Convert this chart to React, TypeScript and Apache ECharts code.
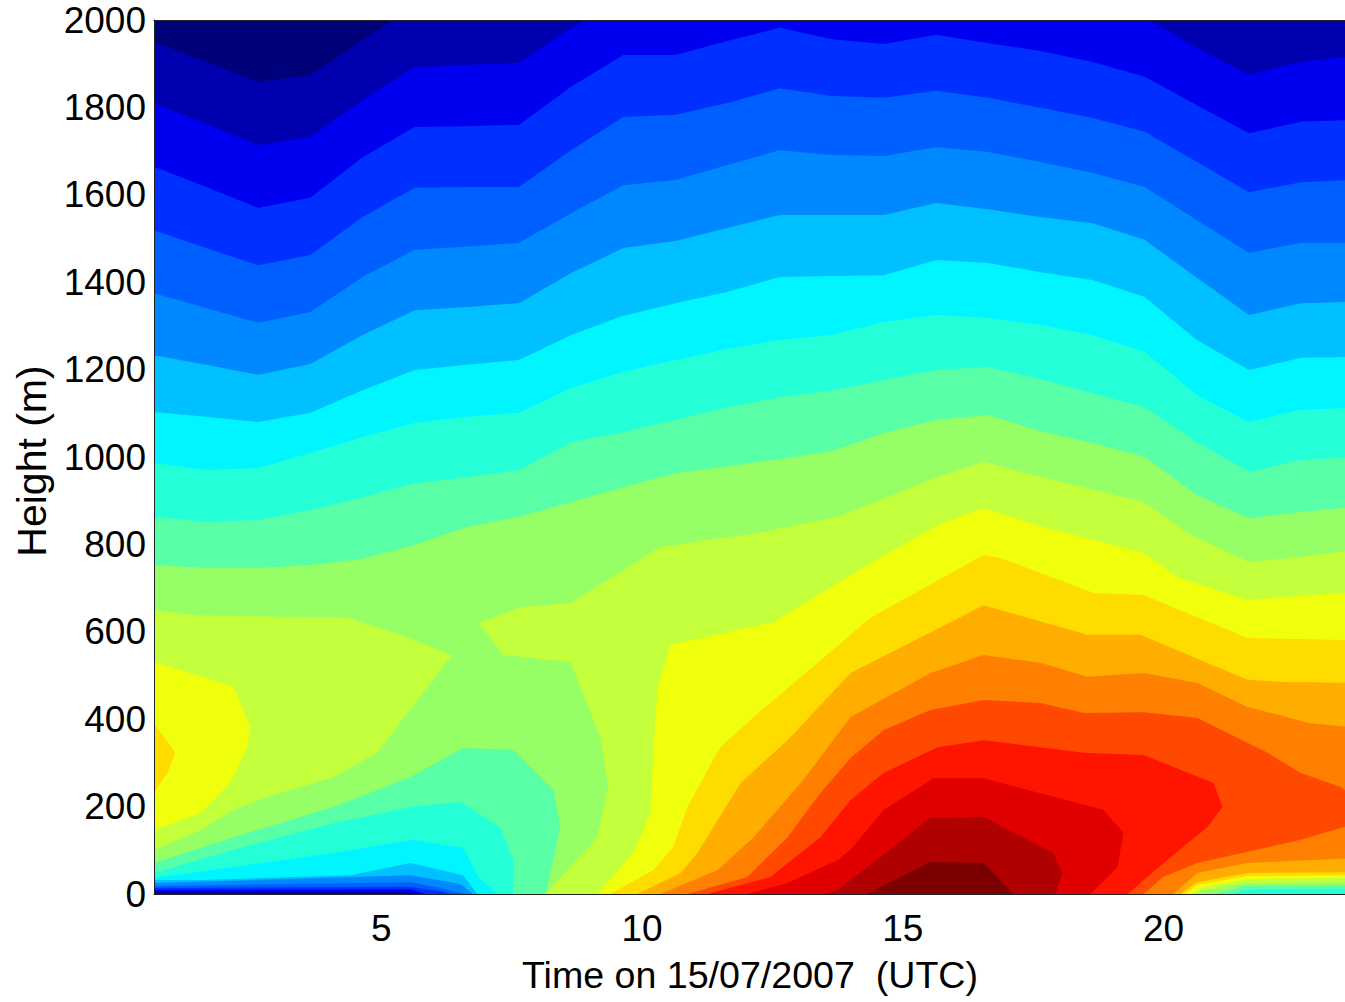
import React, { useEffect, useRef } from "react";
import * as echarts from "echarts";

// Hourly soundings (UTC hours) at which the upper contour lines were read.
const hours = [0.64, 1.64, 2.64, 3.64, 4.64, 5.64, 6.64, 7.64, 8.64, 9.64, 10.64, 11.64, 12.64, 13.64, 14.64, 15.64, 16.64, 17.64, 18.64, 19.64, 20.64, 21.64, 22.64, 23.64];

// Height (m) of each contour line at those hours, top of the chart downwards.
const lineA = [1950, 1904, 1858, 1874, 1954, 2034, 2100, 2100, 2100, 2100, 2100, 2100, 2100, 2100, 2100, 2100, 2100, 2100, 2100, 2100, 2100, 2100, 2100, 2100];
const lineB = [1810, 1762, 1714, 1732, 1817, 1892, 1897, 1902, 1982, 2050, 2060, 2070, 2080, 2070, 2070, 2080, 2070, 2060, 2046, 2005, 1936, 1874, 1904, 1918];
const lineC = [1664, 1618, 1570, 1593, 1686, 1755, 1757, 1760, 1847, 1920, 1920, 1952, 1982, 1956, 1945, 1966, 1947, 1929, 1904, 1870, 1805, 1741, 1767, 1771];
const lineD = [1519, 1478, 1439, 1462, 1549, 1616, 1618, 1618, 1702, 1778, 1783, 1810, 1844, 1826, 1822, 1838, 1822, 1799, 1776, 1744, 1675, 1606, 1629, 1634];
const lineE = [1375, 1341, 1307, 1332, 1412, 1474, 1481, 1490, 1558, 1622, 1634, 1668, 1702, 1691, 1689, 1709, 1698, 1675, 1650, 1618, 1542, 1467, 1490, 1490];
const lineF = [1233, 1211, 1188, 1213, 1279, 1336, 1343, 1352, 1421, 1478, 1494, 1524, 1554, 1554, 1554, 1581, 1567, 1549, 1535, 1497, 1410, 1325, 1352, 1355];
const lineG = [1103, 1092, 1080, 1101, 1153, 1199, 1211, 1222, 1279, 1323, 1352, 1378, 1412, 1414, 1416, 1451, 1444, 1423, 1405, 1366, 1268, 1199, 1227, 1229];
const lineH = [986, 970, 975, 1009, 1046, 1078, 1092, 1101, 1158, 1195, 1222, 1247, 1268, 1279, 1309, 1325, 1318, 1302, 1279, 1240, 1142, 1080, 1108, 1112];
const lineI = [863, 851, 856, 879, 908, 940, 954, 970, 1034, 1057, 1085, 1114, 1137, 1153, 1176, 1199, 1206, 1178, 1146, 1114, 1034, 966, 993, 1000];
const lineJ = [753, 746, 746, 753, 767, 799, 840, 863, 897, 931, 963, 979, 995, 1014, 1055, 1085, 1096, 1059, 1032, 1000, 913, 860, 874, 886];

type Pt = [number, number];

// Closed contour shapes as [hour, height in m].
const lobeWest: Pt[] = [[0.64, 650], [1.47, 638], [3.45, 634], [4.35, 632], [5.37, 593], [6.36, 547], [5.69, 444], [4.92, 323], [4.08, 268], [2.81, 222], [2.16, 192], [1.53, 146], [0.64, 101]];
const blobYellow: Pt[] = [[0.64, 531], [2.16, 474], [2.49, 382], [2.43, 336], [2.1, 254], [1.53, 185], [0.64, 146]];
const blobAmber: Pt[] = [[0.64, 391], [1.05, 323], [0.9, 277], [0.64, 233]];

const lineK: Pt[] = [[8.15, 0], [9.14, 130], [9.35, 245], [9.2, 359], [8.63, 531], [7.34, 547], [6.86, 620], [7.67, 657], [8.63, 666], [9.34, 719], [10.35, 794], [12.21, 826], [13.75, 863], [15.67, 954], [16.55, 989], [17.26, 966], [19.62, 897], [20.46, 826], [21.63, 760], [22.63, 771], [23.59, 787], [23.59, 27], [21.61, 25], [20.8, 9], [20.61, 0]];
const lineL: Pt[] = [[9.14, 0], [9.83, 94], [10.16, 185], [10.22, 336], [10.29, 467], [10.54, 570], [12.52, 622], [14.38, 757], [15.67, 844], [16.55, 883], [17.7, 840], [19.62, 780], [20.27, 725], [21.61, 673], [23.59, 691], [23.59, 37], [21.61, 34], [20.71, 14], [20.52, 0]];
const lineM: Pt[] = [[9.39, 0], [10.22, 55], [10.6, 108], [10.87, 199], [11.5, 336], [12.14, 405], [14.38, 632], [16.55, 776], [16.87, 769], [18.66, 689], [19.62, 684], [21.61, 586], [23.59, 581], [23.59, 43], [21.61, 41], [20.65, 20], [20.42, 0]];
const lineN: Pt[] = [[9.91, 0], [10.74, 48], [11.06, 94], [11.89, 254], [12.79, 352], [14, 506], [16.55, 661], [18.54, 593], [19.56, 593], [21.61, 490], [22.3, 485], [23.59, 483], [23.59, 50], [21.61, 48], [20.65, 27], [20.33, 0]];
const lineO: Pt[] = [[10.35, 0], [11.45, 55], [12.14, 130], [13.09, 261], [14, 405], [15.53, 506], [16.55, 547], [17.64, 529], [18.54, 497], [19.62, 506], [20.65, 483], [21.61, 428], [22.82, 391], [23.59, 382], [23.59, 82], [21.61, 71], [20.65, 48], [20.19, 0]];
const lineP: Pt[] = [[10.87, 0], [12.02, 39], [12.79, 130], [13.42, 231], [14, 311], [14.63, 375], [15.53, 421], [16.55, 444], [17.64, 437], [18.47, 414], [19.62, 416], [20.65, 403], [22, 323], [22.63, 277], [23.4, 245], [23.59, 227], [23.59, 158], [22.63, 124], [20.65, 71], [19.99, 39], [19.62, 0]];
const lineQ: Pt[] = [[11.25, 0], [12.46, 39], [13.42, 130], [14, 215], [14.63, 277], [15.67, 336], [16.55, 352], [18.47, 323], [19.62, 318], [20.96, 254], [21.13, 199], [20.84, 153], [20.07, 78], [19.31, 0]];
const lineR: Pt[] = [[12.02, 0], [12.79, 25], [13.75, 78], [14, 101], [14.63, 192], [15.59, 265], [16.55, 265], [18.85, 192], [19.23, 140], [19.12, 62], [18.6, 0]];
const lineS: Pt[] = [[13.48, 0], [13.75, 9], [14, 32], [15.53, 174], [16.55, 176], [17.89, 94], [18.06, 48], [17.93, 0]];
const lineT: Pt[] = [[14.32, 0], [15.53, 73], [16.55, 71], [17.12, 0]];

const stripA: Pt[] = [[23.59, 21], [21.54, 18], [21.0, 0], [23.59, 0]];
const stripB: Pt[] = [[23.59, 12], [21.54, 10], [21.3, 0], [23.59, 0]];

const nightJ: Pt[] = [[0.64, 71], [2.16, 130], [4.08, 199], [5.56, 268], [6.57, 334], [7.53, 330], [8.3, 238], [8.43, 153], [8.15, 0], [0.64, 0]];
const nightI: Pt[] = [[0.64, 48], [2.16, 101], [4.08, 162], [5.56, 199], [6.52, 211], [7.28, 153], [7.53, 78], [7.53, 0], [0.64, 0]];
const nightH: Pt[] = [[0.64, 37], [2.16, 62], [4.08, 94], [5.61, 124], [6.57, 105], [6.86, 39], [7.23, 0], [0.64, 0]];
const nightG: Pt[] = [[0.64, 32], [1.59, 32], [4.41, 43], [5.56, 71], [6.57, 43], [6.84, 0], [0.64, 0]];
const nightF: Pt[] = [[0.64, 25], [5.56, 43], [6.52, 23], [6.75, 0], [0.64, 0]];
const nightE: Pt[] = [[0.64, 18], [5.56, 27], [6.13, 14], [6.61, 0], [0.64, 0]];
const nightD: Pt[] = [[0.64, 14], [5.56, 16], [6.13, 7], [6.32, 0], [0.64, 0]];
const nightC: Pt[] = [[0.64, 9], [5.56, 11], [5.84, 0], [0.64, 0]];
const nightB: Pt[] = [[0.64, 5], [5.46, 5], [5.7, 0], [0.64, 0]];

const xTicks = [5, 10, 15, 20];
const xName = "Time on 15/07/2007  (UTC)";
const yName = "Height (m)";

const palette = ["#000078", "#0000b0", "#0000f0", "#0030ff", "#0060ff", "#0088ff", "#00c0ff", "#00f5ff", "#25ffd8", "#58ffa6", "#96ff66", "#c4ff3c", "#f0ff0c", "#ffdc00", "#ffae00", "#ff8000", "#ff4800", "#ff1400", "#e00000", "#b00000", "#7c0000"];

const below = (line: number[]): Pt[] => [
  ...line.map((h, i): Pt => [hours[i], h]),
  [hours[hours.length - 1], 0],
  [hours[0], 0],
];

const shapes: { pts: Pt[]; band: number }[] = [
  { pts: below(lineA), band: 1 },
  { pts: below(lineB), band: 2 },
  { pts: below(lineC), band: 3 },
  { pts: below(lineD), band: 4 },
  { pts: below(lineE), band: 5 },
  { pts: below(lineF), band: 6 },
  { pts: below(lineG), band: 7 },
  { pts: below(lineH), band: 8 },
  { pts: below(lineI), band: 9 },
  { pts: below(lineJ), band: 10 },
  { pts: lobeWest, band: 11 },
  { pts: blobYellow, band: 12 },
  { pts: blobAmber, band: 13 },
  { pts: lineK, band: 11 },
  { pts: lineL, band: 12 },
  { pts: lineM, band: 13 },
  { pts: lineN, band: 14 },
  { pts: lineO, band: 15 },
  { pts: lineP, band: 16 },
  { pts: lineQ, band: 17 },
  { pts: lineR, band: 18 },
  { pts: lineS, band: 19 },
  { pts: lineT, band: 20 },
  { pts: stripA, band: 9 },
  { pts: stripB, band: 8 },
  { pts: nightJ, band: 9 },
  { pts: nightI, band: 8 },
  { pts: nightH, band: 7 },
  { pts: nightG, band: 6 },
  { pts: nightF, band: 5 },
  { pts: nightE, band: 4 },
  { pts: nightD, band: 3 },
  { pts: nightC, band: 2 },
  { pts: nightB, band: 1 },
];

const FONT = "'Liberation Sans', Arial, sans-serif";

export default function App() {
  const ref = useRef<HTMLDivElement>(null);
  useEffect(() => {
    document.body.style.margin = "0";
    const chart = echarts.init(ref.current!, undefined, { renderer: "svg" });
    chart.setOption({
      animation: false,
      backgroundColor: "#ffffff",
      grid: { left: 154, top: 20, width: 1192, height: 874, show: true, backgroundColor: palette[0], borderWidth: 0, containLabel: false, outerBoundsMode: "none" },
      xAxis: [
        {
          type: "value", min: 0.64, max: 23.5, position: "bottom", z: 10,
          name: xName, nameLocation: "middle", nameGap: 62,
          nameTextStyle: { fontFamily: FONT, fontSize: 37.6, color: "#000" },
          axisLine: { show: true, onZero: false, lineStyle: { color: "#222", width: 1 } },
          axisTick: { show: false }, splitLine: { show: false },
          axisLabel: { customValues: xTicks, fontFamily: FONT, fontSize: 37, color: "#000", margin: 16 },
        },
        {
          type: "value", min: 0.64, max: 23.5, position: "top", z: 10,
          axisLine: { show: true, onZero: false, lineStyle: { color: "#223", width: 1 } },
          axisTick: { show: false }, splitLine: { show: false }, axisLabel: { show: false },
        },
      ],
      yAxis: {
        type: "value", min: 0, max: 2000, interval: 200, z: 10,
        name: yName, nameLocation: "middle", nameRotate: 90, nameGap: 101,
        nameTextStyle: { fontFamily: FONT, fontSize: 41, color: "#000", padding: [0, 8, 0, 0] },
        axisLine: { show: true, onZero: false, lineStyle: { color: "#222", width: 1 } },
        axisTick: { show: false }, splitLine: { show: false },
        axisLabel: { formatter: (v: number) => String(v), fontFamily: FONT, fontSize: 37, color: "#000", margin: 8 },
      },
      series: [
        {
          type: "custom", silent: true, clip: true, xAxisIndex: 0, yAxisIndex: 0,
          data: shapes.map((_, i) => [i]),
          renderItem: (params: any, api: any) => {
            const s = shapes[params.dataIndex];
            return {
              type: "polygon",
              shape: { points: s.pts.map((p) => api.coord(p)) },
              style: { fill: palette[s.band], stroke: null },
            };
          },
        },
      ],
    });
    return () => chart.dispose();
  }, []);
  return <div ref={ref} style={{ position: "absolute", left: 0, top: 0, width: 1345, height: 1002 }} />;
}
